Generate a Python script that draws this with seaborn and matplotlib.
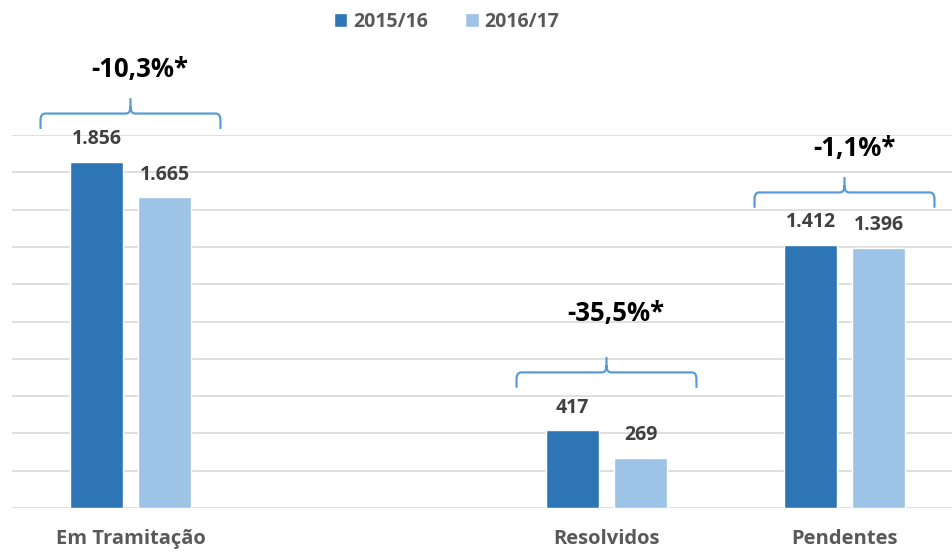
import pandas as pd
import seaborn as sns
import matplotlib.pyplot as plt
from matplotlib.path import Path
from matplotlib.patches import PathPatch

# data
categories = ['Em Tramitação', ' ', 'Resolvidos', 'Pendentes']
periods = ['2015/16', '2016/17']
values_1516 = [1856, None, 417, 1412]
values_1617 = [1665, None, 269, 1396]
changes = ['-10,3%*', None, '-35,5%*', '-1,1%*']

# layout: how far above the taller bar each brace / change label sits (data units)
brace_gap = [181, None, 232, 202]
label_gap = [160, None, 236, 155]

DARK = '#2E75B6'
LIGHT = '#9DC3E6'
BRACE = '#5B9BD5'
GRID = '#D9D9D9'


def fmt_pt(v):
    return f'{v:,.0f}'.replace(',', '.')


def draw_brace(ax, xc, y_base, half=0.378, rise=78, tick=78):
    # curly bracket: ends point down, small tick in the middle points up
    x0, x1 = xc - half, xc + half
    yl = y_base + rise
    rx, ry = 0.02, 35
    verts = [
        (x0, y_base), (x0, yl - ry), (x0, yl), (x0 + rx, yl),
        (xc - rx, yl), (xc, yl), (xc, yl + ry), (xc, yl + tick),
        (xc, yl + ry), (xc, yl), (xc + rx, yl),
        (x1 - rx, yl), (x1, yl), (x1, yl - ry), (x1, y_base),
    ]
    codes = [
        Path.MOVETO, Path.LINETO, Path.CURVE3, Path.CURVE3,
        Path.LINETO, Path.CURVE3, Path.CURVE3, Path.LINETO,
        Path.MOVETO, Path.CURVE3, Path.CURVE3,
        Path.LINETO, Path.CURVE3, Path.CURVE3, Path.LINETO,
    ]
    ax.add_patch(PathPatch(Path(verts, codes), fill=False, edgecolor=BRACE,
                           linewidth=1.6, clip_on=False, capstyle='round'))
    return yl + tick


rows = []
for cat, a, b in zip(categories, values_1516, values_1617):
    if a is not None:
        rows.append({'categoria': cat, 'periodo': periods[0], 'valor': a})
        rows.append({'categoria': cat, 'periodo': periods[1], 'valor': b})
df = pd.DataFrame(rows)

sns.set_style('white')
plt.rcParams['font.family'] = ['Open Sans', 'DejaVu Sans']

fig = plt.figure(figsize=(9.52, 5.52), dpi=100)
ax = fig.add_axes([11.5 / 952, 44 / 552, 940.5 / 952, 373 / 552])

sns.barplot(data=df, x='categoria', y='valor', hue='periodo', order=categories,
            hue_order=periods, palette=[DARK, LIGHT], width=0.571, gap=0.22,
            saturation=1, ax=ax)

ax.set_xlim(-0.5, -0.5 + 940.5 / 238)
ax.set_ylim(0, 2000)
ax.set_yticks(range(0, 2001, 200))
ax.yaxis.grid(True, color=GRID, linewidth=1.2)
ax.set_axisbelow(True)
ax.set_yticklabels([])
ax.tick_params(axis='both', length=0)
ax.tick_params(axis='x', pad=15)
for s in ax.spines.values():
    s.set_visible(False)
ax.set_xlabel('')
ax.set_ylabel('')
for lbl in ax.get_xticklabels():
    lbl.set_fontsize(14.5)
    lbl.set_fontweight('bold')
    lbl.set_color('#595959')

for cont in ax.containers:
    ax.bar_label(cont, labels=[fmt_pt(b.get_height()) if b.get_height() == b.get_height() else ''
                               for b in cont],
                 padding=9, fontsize=14, fontweight='bold', color='#404040')

for i, (a, b, txt) in enumerate(zip(values_1516, values_1617, changes)):
    if txt is None:
        continue
    top = draw_brace(ax, i, max(a, b) + brace_gap[i])
    ax.text(i + 0.04, top + label_gap[i], txt, ha='center', va='center', fontsize=18.5,
            fontweight='bold', color='black', clip_on=False)

handles, labels = ax.get_legend_handles_labels()
ax.get_legend().remove()
fig.legend(handles, labels, loc='center', bbox_to_anchor=(0.469, 0.96), ncol=2,
           frameon=False, handlelength=0.7, handleheight=0.7, handletextpad=0.3,
           columnspacing=1.9, prop={'size': 14, 'weight': 'bold'}, labelcolor='#595959')

fig.savefig('out.png', dpi=100)
